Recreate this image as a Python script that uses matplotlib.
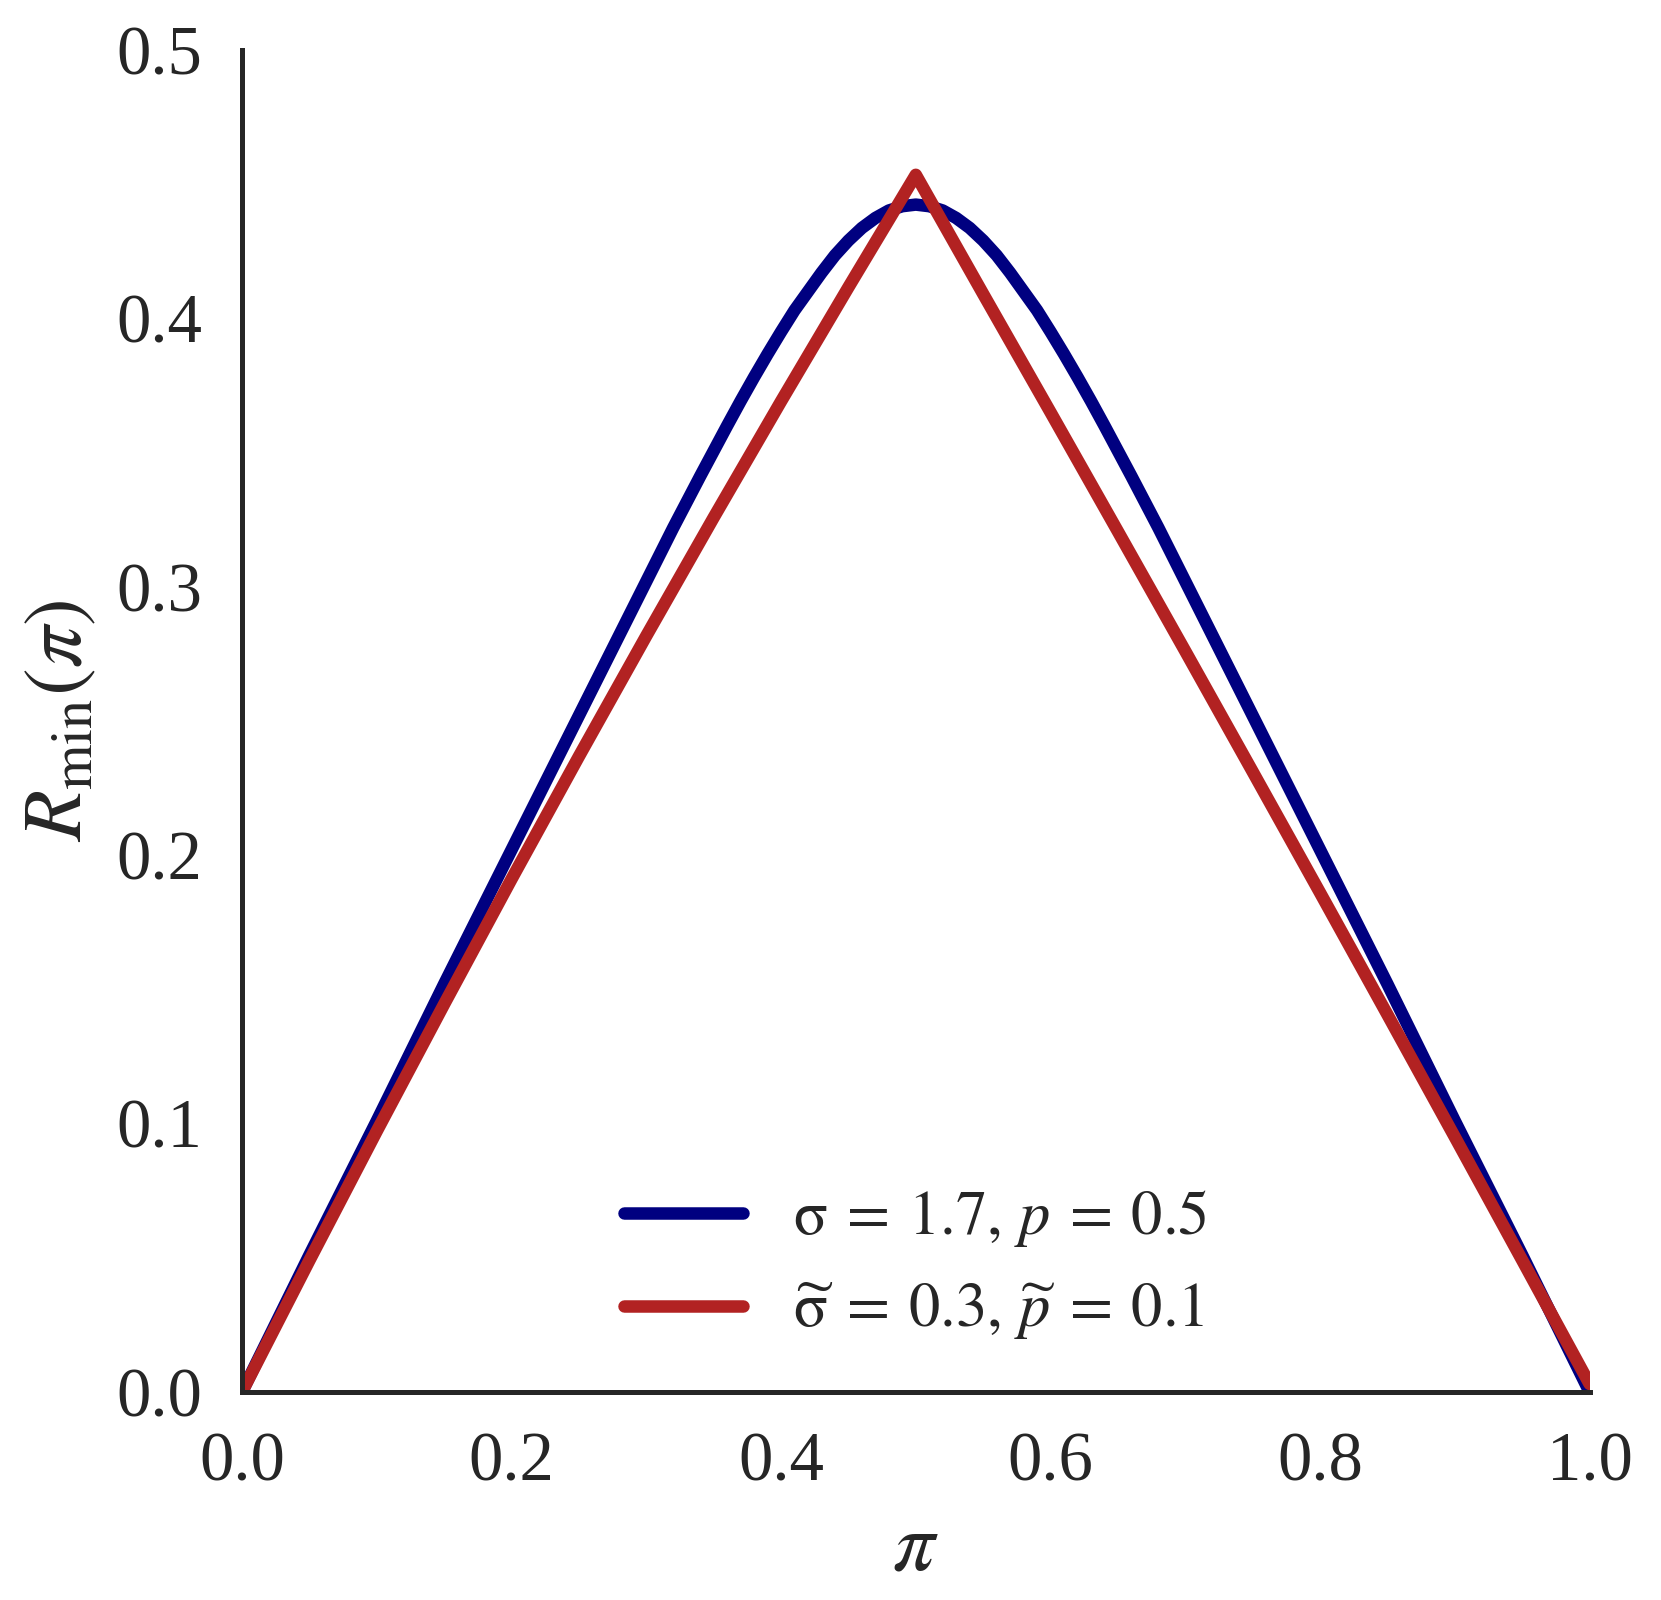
import numpy as np
import matplotlib
matplotlib.use("Agg")
import matplotlib.pyplot as plt
import seaborn as sns

# values
blue_x = [0.0, 0.05, 0.1, 0.15, 0.2, 0.25, 0.3, 0.32, 0.34, 0.36, 0.37, 0.38, 0.39, 0.4,
          0.41, 0.42, 0.43, 0.44, 0.45, 0.46, 0.47, 0.48, 0.49, 0.5,
          0.51, 0.52, 0.53, 0.54, 0.55, 0.56, 0.57, 0.58, 0.59, 0.6,
          0.61, 0.62, 0.63, 0.64, 0.66, 0.68, 0.7, 0.75, 0.8, 0.85, 0.9, 0.95, 1.0]
blue_y = [0.0, 0.051, 0.101, 0.152, 0.202, 0.252, 0.302, 0.322, 0.3412, 0.36, 0.3692, 0.3781, 0.3867, 0.395,
          0.403, 0.410, 0.417, 0.4235, 0.429, 0.4337, 0.4374, 0.4402, 0.4418, 0.4424,
          0.4418, 0.4402, 0.4374, 0.4337, 0.429, 0.4235, 0.417, 0.410, 0.403, 0.395,
          0.3867, 0.3781, 0.3692, 0.36, 0.3412, 0.322, 0.302, 0.252, 0.202, 0.152, 0.101, 0.051, 0.0]

red_x = [0.0, 0.05, 0.1, 0.15, 0.2, 0.25, 0.3, 0.35, 0.4, 0.45, 0.5,
         0.55, 0.6, 0.65, 0.7, 0.75, 0.8, 0.85, 0.9, 0.95, 1.0]
red_y = [0.0, 0.049, 0.0972, 0.1445, 0.1911, 0.2368, 0.2817, 0.3258, 0.3691, 0.4116, 0.4535,
         0.4091, 0.365, 0.3206, 0.276, 0.2311, 0.186, 0.1406, 0.095, 0.0491, 0.003]

labels = [r"$\mathrm{\sigma}\:=\:1.7,\,p\:=\:0.5$",
          r"$\widetilde{\mathrm{\sigma}}\:=\:0.3,\,\widetilde{p}\:=\:0.1$"]

sns.set_style("white")
plt.rcParams['font.family'] = ['Liberation Serif', 'DejaVu Serif']
plt.rcParams['mathtext.fontset'] = 'stix'

fig = plt.figure(figsize=(1661/300, 1600/300), dpi=300)
ax = fig.add_axes([0.1457, 0.13, 0.957-0.1457, 0.96875-0.13])

ax.plot(blue_x, blue_y, color='navy', lw=3, label=labels[0], solid_capstyle='round')
ax.plot(red_x, red_y, color='firebrick', lw=3, label=labels[1], solid_capstyle='round')

ax.set_xlim(0, 1.0)
ax.set_ylim(0, 0.5)
ax.set_xticks([0.0, 0.2, 0.4, 0.6, 0.8, 1.0])
ax.set_yticks([0.0, 0.1, 0.2, 0.3, 0.4, 0.5])
ax.tick_params(labelsize=16.5, colors='.15', pad=6)
ax.set_xlabel(r"$\pi$", fontsize=20, color='.15')
ax.set_ylabel(r"$R_{\min}(\pi)$", fontsize=20, color='.15')
for s in ['top', 'right']:
    ax.spines[s].set_visible(False)
for s in ['left', 'bottom']:
    ax.spines[s].set_linewidth(1.2)
    ax.spines[s].set_color('.15')

leg = ax.legend(loc='lower center', fontsize=15, frameon=False,
                handlelength=1.9, bbox_to_anchor=(0.5, -0.005))

fig.savefig("out.png", dpi=300)
